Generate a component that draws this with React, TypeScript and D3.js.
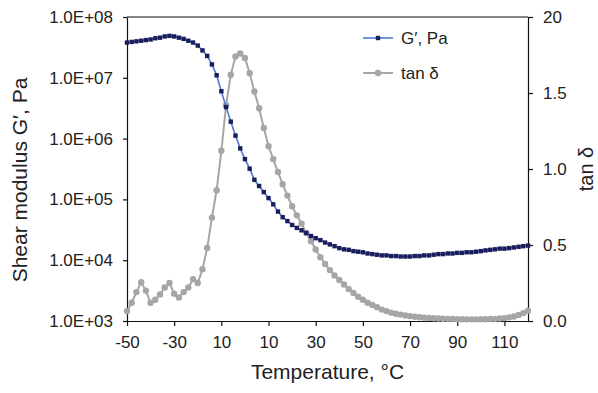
import React, { useEffect, useRef } from 'react';
import * as d3 from 'd3';

// temperature, °C (measurement points)
const temperatures = [
  -50, -48, -46, -44, -42, -40, -38, -36, -34, -32,
  -30, -28, -26, -24, -22, -20, -18, -16, -14, -12,
  -10, -8, -6, -4, -2, 0, 2, 4, 6, 8,
  10, 12, 14, 16, 18, 20, 22, 24, 26, 28,
  30, 32, 34, 36, 38, 40, 42, 44, 46, 48,
  50, 52, 54, 56, 58, 60, 62, 64, 66, 68,
  70, 72, 74, 76, 78, 80, 82, 84, 86, 88,
  90, 92, 94, 96, 98, 100, 102, 104, 106, 108,
  110, 112, 114, 116, 118, 120,
];

// G', Pa
const shearModulus = [
  3.8e7, 3.89e7, 3.98e7, 4.07e7, 4.17e7, 4.27e7, 4.47e7, 4.57e7, 4.79e7, 4.9e7,
  4.79e7, 4.57e7, 4.37e7, 4.07e7, 3.8e7, 3.39e7, 2.82e7, 2.29e7, 1.66e7, 1.1e7,
  6.0e6, 3.3e6, 1.9e6, 1.12e6, 6.9e5, 4.6e5, 3.2e5, 2.1e5, 1.66e5, 1.32e5,
  1.05e5, 8.3e4, 6.3e4, 5.1e4, 4.4e4, 3.8e4, 3.4e4, 3.1e4, 2.8e4, 2.5e4,
  2.3e4, 2.14e4, 1.95e4, 1.82e4, 1.7e4, 1.58e4, 1.51e4, 1.48e4, 1.41e4, 1.38e4,
  1.35e4, 1.29e4, 1.26e4, 1.23e4, 1.2e4, 1.2e4, 1.17e4, 1.17e4, 1.15e4, 1.15e4,
  1.15e4, 1.17e4, 1.17e4, 1.2e4, 1.2e4, 1.23e4, 1.26e4, 1.26e4, 1.29e4, 1.29e4,
  1.32e4, 1.32e4, 1.35e4, 1.35e4, 1.38e4, 1.41e4, 1.45e4, 1.48e4, 1.51e4, 1.55e4,
  1.55e4, 1.58e4, 1.62e4, 1.66e4, 1.7e4, 1.74e4,
];

// tan δ
const tanDelta = [
  0.065, 0.12, 0.19, 0.255, 0.2, 0.12, 0.14, 0.175, 0.22, 0.25,
  0.18, 0.155, 0.19, 0.22, 0.275, 0.25, 0.34, 0.48, 0.68, 0.86,
  1.12, 1.42, 1.62, 1.74, 1.76, 1.73, 1.63, 1.51, 1.4, 1.27,
  1.15, 1.065, 0.98, 0.9, 0.825, 0.755, 0.695, 0.64, 0.58, 0.525,
  0.47, 0.42, 0.375, 0.335, 0.3, 0.27, 0.24, 0.21, 0.185, 0.16,
  0.14, 0.12, 0.105, 0.09, 0.075, 0.065, 0.055, 0.048, 0.042, 0.036,
  0.032, 0.028, 0.025, 0.022, 0.02, 0.018, 0.016, 0.015, 0.014, 0.013,
  0.012, 0.012, 0.011, 0.011, 0.011, 0.012, 0.012, 0.013, 0.014, 0.016,
  0.019, 0.024, 0.03, 0.04, 0.052, 0.068,
];

const xTicks = [-50, -30, -10, 10, 30, 50, 70, 90, 110];
const xTickLabels = ['-50', '-30', '10', '10', '30', '50', '70', '90', '110'];
const leftTicks = [1e3, 1e4, 1e5, 1e6, 1e7, 1e8];
const leftTickLabels = ['1.0E+03', '1.0E+04', '1.0E+05', '1.0E+06', '1.0E+07', '1.0E+08'];
const rightTicks = [0, 0.5, 1, 1.5, 2];
const rightTickLabels = ['0.0', '0.5', '1.0', '1.5', '20'];
const seriesNames = ['G\u2032, Pa', 'tan \u03b4'];

const width = 598;
const height = 393;
const margin = { top: 17, right: 70, bottom: 72, left: 127 };
const font = '"Liberation Sans", Arial, sans-serif';
const textColor = '#222';
const navy = '#1b1e5c';
const blue = '#4a7bd0';
const gray = '#a6a6a6';

const App = () => {
  const svgRef = useRef<SVGSVGElement>(null);

  useEffect(() => {
    const svg = d3.select(svgRef.current);
    svg.selectAll('*').remove();

    const x = d3.scaleLinear().domain([-50, 120]).range([margin.left, width - margin.right]);
    const yG = d3.scaleLog().domain([1e3, 1e8]).range([height - margin.bottom, margin.top]);
    const yT = d3.scaleLinear().domain([0, 2]).range([height - margin.bottom, margin.top]);

    const styleAxis = (g: any) => {
      g.select('.domain').attr('stroke', '#111').attr('stroke-width', 1.2);
      g.selectAll('.tick line').attr('stroke', '#111').attr('stroke-width', 1.2);
      g.selectAll('.tick text')
        .attr('fill', textColor)
        .style('font-family', font)
        .style('font-size', '17px');
    };

    // top frame line
    svg.append('line')
      .attr('x1', margin.left).attr('x2', width - margin.right)
      .attr('y1', margin.top).attr('y2', margin.top)
      .attr('stroke', '#111').attr('stroke-width', 1.2);

    svg.append('g')
      .attr('transform', `translate(0,${height - margin.bottom})`)
      .call(d3.axisBottom(x).tickValues(xTicks)
        .tickFormat((d, i) => xTickLabels[i]).tickSize(5).tickSizeOuter(0).tickPadding(10))
      .call(styleAxis);

    svg.append('g')
      .attr('transform', `translate(${margin.left},0)`)
      .call(d3.axisLeft(yG).tickValues(leftTicks)
        .tickFormat((d, i) => leftTickLabels[i]).tickSize(4).tickSizeOuter(0).tickPadding(10))
      .call(styleAxis);

    svg.append('g')
      .attr('transform', `translate(${width - margin.right},0)`)
      .call(d3.axisRight(yT).tickValues(rightTicks)
        .tickFormat((d, i) => rightTickLabels[i]).tickSize(5).tickSizeOuter(0).tickPadding(10))
      .call(styleAxis);

    // tan δ series
    const tanLine = d3.line<number>()
      .x((d, i) => x(temperatures[i]))
      .y(d => yT(d));
    svg.append('path')
      .datum(tanDelta)
      .attr('d', tanLine)
      .attr('fill', 'none')
      .attr('stroke', gray)
      .attr('stroke-width', 2);
    svg.append('g').selectAll('circle')
      .data(tanDelta)
      .join('circle')
      .attr('cx', (d, i) => x(temperatures[i]))
      .attr('cy', d => yT(d))
      .attr('r', 3.2)
      .attr('fill', gray);

    // G' series
    const gLine = d3.line<number>()
      .x((d, i) => x(temperatures[i]))
      .y(d => yG(d));
    svg.append('path')
      .datum(shearModulus)
      .attr('d', gLine)
      .attr('fill', 'none')
      .attr('stroke', blue)
      .attr('stroke-width', 1.6);
    svg.append('g').selectAll('rect')
      .data(shearModulus)
      .join('rect')
      .attr('x', (d, i) => x(temperatures[i]) - 2.2)
      .attr('y', d => yG(d) - 2.2)
      .attr('width', 4.4)
      .attr('height', 4.4)
      .attr('fill', navy);

    // legend
    const legend = svg.append('g').attr('transform', 'translate(363,38)');
    const items = legend.selectAll('g').data(seriesNames).join('g')
      .attr('transform', (d, i) => `translate(0,${i * 35})`);
    items.append('line')
      .attr('x1', 0).attr('x2', 30).attr('y1', 0).attr('y2', 0)
      .attr('stroke', (d, i) => (i === 0 ? blue : gray))
      .attr('stroke-width', (d, i) => (i === 0 ? 1.6 : 2));
    items.filter((d, i) => i === 0).append('rect')
      .attr('x', 12.8).attr('y', -2.2).attr('width', 4.4).attr('height', 4.4).attr('fill', navy);
    items.filter((d, i) => i === 1).append('circle')
      .attr('cx', 15).attr('cy', 0).attr('r', 3.2).attr('fill', gray);
    items.append('text')
      .attr('x', 38).attr('y', 6)
      .attr('fill', textColor)
      .style('font-family', font)
      .style('font-size', '17px')
      .text(d => d);

    // axis titles
    svg.append('text')
      .attr('transform', `translate(${(margin.left + width - margin.right) / 2},379)`)
      .attr('text-anchor', 'middle')
      .attr('fill', textColor)
      .style('font-family', font)
      .style('font-size', '21px')
      .text('Temperature, \u00b0C');

    svg.append('text')
      .attr('transform', 'translate(27,180) rotate(-90)')
      .attr('text-anchor', 'middle')
      .attr('fill', textColor)
      .style('font-family', font)
      .style('font-size', '21px')
      .text('Shear modulus G\u2032, Pa');

    svg.append('text')
      .attr('transform', `translate(593,${(margin.top + height - margin.bottom) / 2}) rotate(-90)`)
      .attr('text-anchor', 'middle')
      .attr('fill', textColor)
      .style('font-family', font)
      .style('font-size', '20px')
      .text('tan \u03b4');
  }, []);

  return (
    <svg
      ref={svgRef}
      width={width}
      height={height}
      style={{ position: 'absolute', left: 0, top: 0, background: '#fff' }}
    />
  );
};

export default App;
